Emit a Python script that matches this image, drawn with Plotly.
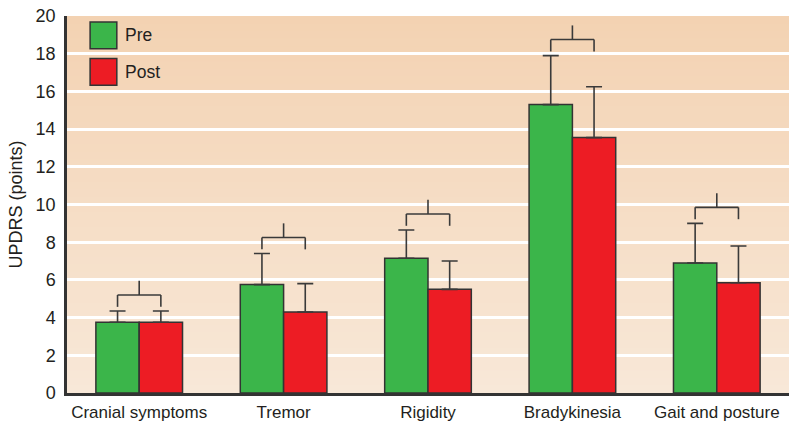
import plotly.graph_objects as go

# UPDRS sub-scores before and after treatment (mean and SD, points)
categories = ["Cranial symptoms", "Tremor", "Rigidity", "Bradykinesia", "Gait and posture"]
pre_mean = [3.75, 5.75, 7.15, 15.3, 6.9]
pre_sd = [0.6, 1.65, 1.5, 2.6, 2.1]
post_mean = [3.75, 4.3, 5.5, 13.55, 5.85]
post_sd = [0.6, 1.5, 1.5, 2.7, 1.95]
y_ticks = list(range(0, 21, 2))

GREEN = "#3BB54A"
RED = "#ED1C24"
INK = "#3A3A3A"
FONT = "Liberation Sans, Arial, sans-serif"

fig = go.Figure()

for name, mean, sd, color in [("Pre", pre_mean, pre_sd, GREEN), ("Post", post_mean, post_sd, RED)]:
    fig.add_trace(go.Bar(
        name=name, x=categories, y=mean,
        marker=dict(color=color, line=dict(color="#333333", width=1.5)),
        error_y=dict(type="data", array=sd, arrayminus=[0] * len(sd), symmetric=False,
                     color=INK, thickness=1.6, width=8),
        showlegend=False,
    ))

shapes = []

# peach background gradient, darker at the top; each band runs to the top edge
# so consecutive bands overlap and leave no seams
top_rgb = (243, 210, 178)
bot_rgb = (248, 232, 216)
n_strips = 50
for k in range(n_strips):
    t = (k + 0.5) / n_strips
    c = tuple(round(b + (a - b) * t) for a, b in zip(top_rgb, bot_rgb))
    shapes.append(dict(type="rect", xref="paper", yref="y", layer="below",
                       x0=0, x1=1, y0=20 * k / n_strips, y1=20,
                       fillcolor="rgb(%d,%d,%d)" % c, line=dict(width=0)))

# comparison brackets above each pair of bars
half = 0.15
for i in range(len(categories)):
    tops = max(pre_mean[i] + pre_sd[i], post_mean[i] + post_sd[i])
    leg_low = tops + 0.22
    bar_y = tops + 0.85
    stem_top = bar_y + 0.75
    line = dict(color=INK, width=1.6)
    shapes += [
        dict(type="line", xref="x", yref="y", x0=i - half, x1=i + half, y0=bar_y, y1=bar_y, line=line),
        dict(type="line", xref="x", yref="y", x0=i - half, x1=i - half, y0=leg_low, y1=bar_y, line=line),
        dict(type="line", xref="x", yref="y", x0=i + half, x1=i + half, y0=leg_low, y1=bar_y, line=line),
        dict(type="line", xref="x", yref="y", x0=i, x1=i, y0=bar_y, y1=stem_top, line=line),
    ]

# legend swatches
annotations = []
for label, color, y_top, y_bot, y_mid in [("Pre", GREEN, 0.984, 0.913, 0.9485),
                                          ("Post", RED, 0.887, 0.816, 0.8515)]:
    shapes.append(dict(type="rect", xref="paper", yref="paper", x0=0.032, x1=0.069,
                       y0=y_bot, y1=y_top, fillcolor=color, line=dict(color="#333333", width=1.5)))
    annotations.append(dict(xref="paper", yref="paper", x=0.077, y=y_mid, text=label,
                            showarrow=False, xanchor="left", yanchor="middle",
                            font=dict(family=FONT, size=17.5, color="#231F20")))

fig.update_layout(
    width=789, height=422,
    margin=dict(l=67, r=0, t=16, b=27),
    paper_bgcolor="white",
    plot_bgcolor="rgba(0,0,0,0)",
    barmode="group", bargap=0.4, bargroupgap=0,
    shapes=shapes, annotations=annotations,
    font=dict(family=FONT, size=17.5, color="#231F20"),
)
fig.update_xaxes(
    showline=True, linecolor="#333333", linewidth=2.5, showgrid=False,
    ticks="outside", ticklen=2, tickcolor="rgba(0,0,0,0)",
    tickfont=dict(size=17), range=[-0.5, 4.5],
)
fig.update_yaxes(
    range=[0, 20], tickvals=y_ticks, showline=True, linecolor="#333333", linewidth=2.5,
    showgrid=True, gridcolor="white", gridwidth=2.5, zeroline=False,
    ticks="outside", ticklen=5, tickcolor="rgba(0,0,0,0)", tickfont=dict(size=18),
    title=dict(text="UPDRS (points)", font=dict(size=18), standoff=9),
)

fig.write_html("out.html")
